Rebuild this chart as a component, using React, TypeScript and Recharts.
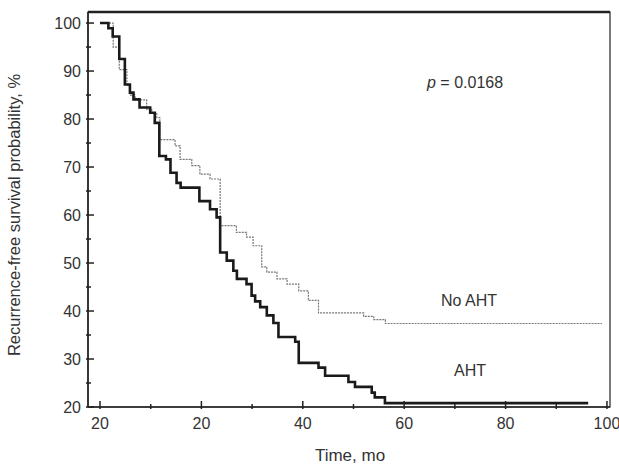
import React from "react";
import { LineChart, Line, XAxis, YAxis, ReferenceArea, ReferenceLine } from "recharts";

const ahtTimes = [0, 1.65, 2.5, 3.8, 4.9, 5.9, 6.6, 7.8, 9.9, 10.8, 11.7, 13.0, 13.9, 15.1, 15.9, 18.9, 19.6, 21.7, 23.0, 23.7, 25.0, 26.3, 27.0, 28.9, 29.9, 30.6, 31.6, 32.9, 34.2, 35.2, 38.5, 39.2, 43.1, 44.4, 49.0, 50.3, 53.6, 54.2, 56.2, 96.3];
const ahtValues = [100, 98.9, 97.2, 92.5, 87.2, 85.5, 84.1, 82.4, 81.3, 79.2, 72.3, 71.6, 68.8, 66.7, 65.7, 65.7, 62.9, 61.2, 59.5, 52.2, 50.5, 48.4, 46.7, 45.6, 43.2, 42.0, 40.8, 39.1, 37.5, 34.6, 33.6, 29.2, 28.2, 26.5, 25.2, 24.2, 23.0, 22.0, 20.8, 20.8];
const noAhtTimes = [0, 2.6, 3.8, 5.3, 5.9, 6.9, 9.2, 10.2, 11.2, 11.8, 14.8, 15.8, 18.1, 19.7, 21.7, 23.7, 26.9, 28.9, 30.2, 31.9, 32.9, 34.9, 36.9, 39.2, 41.1, 43.1, 52.0, 54.0, 56.3, 99];
const noAhtValues = [100, 95, 90.3, 87, 85, 84, 82, 81.3, 80.3, 75.7, 74.4, 71.6, 70.3, 68.5, 67.5, 57.8, 56.4, 55.4, 53.6, 49.2, 48.1, 46.7, 45.6, 44.2, 42.2, 39.6, 38.9, 38.2, 37.4, 37.4];
const xTicks = [0, 10, 20, 30, 40, 50, 60, 70, 80, 90, 100];
const xTickLabels = ["20", "", "20", "", "40", "", "60", "", "80", "", "100"];
const yTicks = [20, 25, 30, 35, 40, 45, 50, 55, 60, 65, 70, 75, 80, 85, 90, 95, 100];

const aht = ahtTimes.map((t, i) => ({ t, v: ahtValues[i] }));
const noAht = noAhtTimes.map((t, i) => ({ t, v: noAhtValues[i] }));
const font = "'Liberation Sans', Arial, sans-serif";

const XTick = (p: any) => {
  const i = xTicks.indexOf(p.payload.value);
  const major = xTickLabels[i] !== "";
  return (
    <g>
      <line x1={p.x} x2={p.x} y1={p.y} y2={p.y - (major ? 8 : 5)} stroke="#222" strokeWidth={1.5} />
      {major && <text x={p.x} y={p.y + 20} textAnchor="middle" fontSize={16} fill="#333" fontFamily={font}>{xTickLabels[i]}</text>}
    </g>
  );
};
const YTick = (p: any) => {
  const v = p.payload.value;
  const major = v % 10 === 0;
  return (
    <g>
      <line x1={p.x} x2={p.x + (major ? 8 : 5)} y1={p.y} y2={p.y} stroke="#222" strokeWidth={1.5} />
      {major && <text x={p.x - 5} y={p.y + 6} textAnchor="end" fontSize={16} fill="#333" fontFamily={font}>{v}</text>}
    </g>
  );
};

export default function App() {
  return (
    <div style={{ position: "absolute", left: 0, top: 0, width: 619, height: 470, fontFamily: font, color: "#333" }}>
      <LineChart width={619} height={470} margin={{ top: 12, right: 9, left: 0, bottom: 0 }}>
        <XAxis type="number" dataKey="t" domain={[-2.37, 100.6]} ticks={xTicks} tick={<XTick />} tickSize={0} tickLine={false} height={63} allowDuplicatedCategory={false} stroke="#222" strokeWidth={1.5} />
        <YAxis type="number" dataKey="v" domain={[20, 102.3]} ticks={yTicks} tick={<YTick />} tickSize={0} tickLine={false} width={88} stroke="#222" strokeWidth={1.5} allowDataOverflow />
        <ReferenceArea x1={-2.37} x2={100.6} y1={20} y2={102.3} fill="none" stroke="#222" strokeWidth={1.2} ifOverflow="extendDomain" />
        <ReferenceLine y={102.3} stroke="#222" strokeWidth={2.5} ifOverflow="extendDomain" />
        <Line data={noAht} dataKey="v" type="stepAfter" stroke="#777" strokeWidth={1.2} strokeDasharray="2 1" dot={false} isAnimationActive={false} />
        <Line data={aht} dataKey="v" type="stepAfter" stroke="#1a1a1a" strokeWidth={2.6} dot={false} isAnimationActive={false} />
      </LineChart>
      <div style={{ position: "absolute", left: 427, top: 74, fontSize: 16 }}><i>p</i> = 0.0168</div>
      <div style={{ position: "absolute", left: 441, top: 292, fontSize: 16 }}>No AHT</div>
      <div style={{ position: "absolute", left: 454, top: 362, fontSize: 16 }}>AHT</div>
      <div style={{ position: "absolute", left: 0, top: 446, width: 700, textAlign: "center", fontSize: 17 }}>Time, mo</div>
      <div style={{ position: "absolute", left: 14, top: 215, fontSize: 16.5, whiteSpace: "nowrap", transform: "translate(-50%,-50%) rotate(-90deg)", transformOrigin: "center" }}>Recurrence-free survival probability, %</div>
    </div>
  );
}
